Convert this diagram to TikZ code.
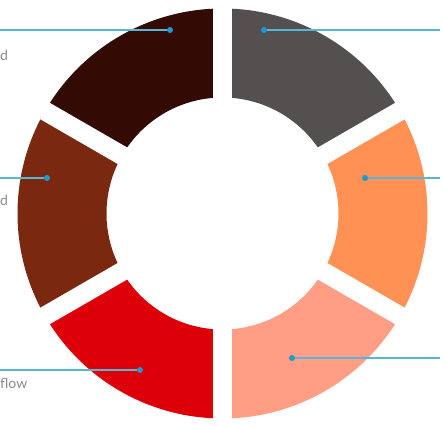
\documentclass[tikz,border=0pt]{standalone}
\usepackage{fontspec}
\setmainfont{Lato}
\usepackage{xcolor}
\usetikzlibrary{calc}
\definecolor{segtl}{HTML}{330A04}
\definecolor{segl}{HTML}{7A2910}
\definecolor{segbl}{HTML}{DE0009}
\definecolor{segbr}{HTML}{FF9D85}
\definecolor{segr}{HTML}{FF9155}
\definecolor{segtr}{HTML}{545050}
\definecolor{leadline}{HTML}{55B6D9}
\definecolor{leaddot}{HTML}{1C9ACA}
\definecolor{labelgray}{HTML}{8A8A8A}
\tikzset{
  gap/.style  ={draw=white, line width=19pt},
  lead/.style ={draw=leadline, line width=1.2pt},
  pin/.style  ={circle, fill=leaddot, inner sep=0pt, minimum size=6pt},
  lbl/.style  ={anchor=base west, inner sep=0pt, text=labelgray, font=\fontsize{14}{16}\selectfont},
}

\begin{document}
\begin{tikzpicture}[x=1pt, y=1pt]
    \useasboundingbox (0,0) rectangle (445,426);
    \coordinate (ctr) at (222.5,212.5);

    % ring segments
    \fill[segtr] ($(ctr)+(30:205)$) arc[start angle=30, end angle=90, radius=205]
        -- ($(ctr)+(90:116)$) arc[start angle=90, end angle=30, radius=116] -- cycle;
    \fill[segr] ($(ctr)+(-30:205)$) arc[start angle=-30, end angle=30, radius=205]
        -- ($(ctr)+(30:116)$) arc[start angle=30, end angle=-30, radius=116] -- cycle;
    \fill[segbr] ($(ctr)+(-90:205)$) arc[start angle=-90, end angle=-30, radius=205]
        -- ($(ctr)+(-30:116)$) arc[start angle=-30, end angle=-90, radius=116] -- cycle;
    \fill[segbl] ($(ctr)+(-150:205)$) arc[start angle=-150, end angle=-90, radius=205]
        -- ($(ctr)+(-90:116)$) arc[start angle=-90, end angle=-150, radius=116] -- cycle;
    \fill[segl] ($(ctr)+(150:205)$) arc[start angle=150, end angle=210, radius=205]
        -- ($(ctr)+(210:116)$) arc[start angle=210, end angle=150, radius=116] -- cycle;
    \fill[segtl] ($(ctr)+(90:205)$) arc[start angle=90, end angle=150, radius=205]
        -- ($(ctr)+(150:116)$) arc[start angle=150, end angle=90, radius=116] -- cycle;

    % gaps between segments
    \draw[gap] (ctr) -- ++(90:215);
    \draw[gap] (ctr) -- ++(30:215);
    \draw[gap] (ctr) -- ++(-30:215);
    \draw[gap] (ctr) -- ++(-90:215);
    \draw[gap] (ctr) -- ++(-150:215);
    \draw[gap] (ctr) -- ++(150:215);

    % callout ends
    \coordinate (tlend) at (0,396);
    \coordinate (lend)  at (0,248);
    \coordinate (blend) at (0,56);
    \coordinate (trend) at (440,396);
    \coordinate (rend)  at (440,248);
    \coordinate (brend) at (440,68);

    \node[pin] (tlpin) at (170,396) {};
    \node[pin] (lpin)  at (47,248) {};
    \node[pin] (blpin) at (140,56) {};
    \node[pin] (trpin) at (264,396) {};
    \node[pin] (rpin)  at (365,248) {};
    \node[pin] (brpin) at (292,68) {};

    \draw[lead] (tlend) -- (tlpin);
    \draw[lead] (lend) -- (lpin);
    \draw[lead] (blend) -- (blpin);
    \draw[lead] (trpin) -- (trend);
    \draw[lead] (rpin) -- (rend);
    \draw[lead] (brpin) -- (brend);

    % labels (cut at the left edge)
    \node[lbl] (tllbl) at (0,365) {d};
    \node[lbl] (llbl)  at (0,220) {d};
    \node[lbl] (bllbl) at (0,37) {flow};
\end{tikzpicture}
\end{document}
